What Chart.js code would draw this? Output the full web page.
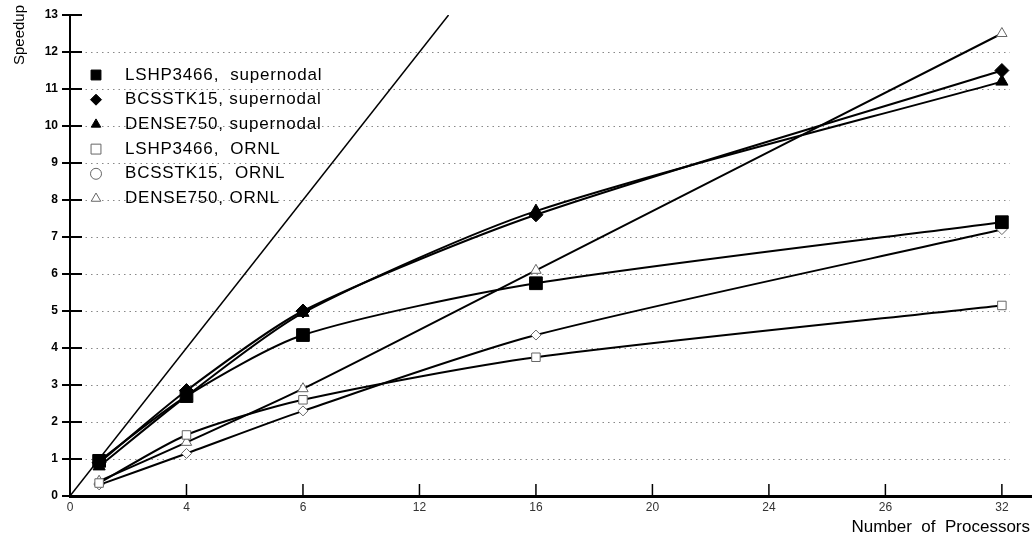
<!DOCTYPE html>
<html>
<head>
  <meta charset="UTF-8">
  <title>Speedup</title>
  <script src="https://cdn.jsdelivr.net/npm/chart.js"></script>
  <style>
    html, body { margin: 0; padding: 0; background: #fff; }
    #wrap { width: 1033px; height: 540px; position: relative; }
  </style>
</head>
<body>
  <div id="wrap"><canvas id="speedChart"></canvas></div>

  <script>
    // processors used in the runs
    const procs = [1, 4, 8, 16, 32];

    // x ticks as printed on the original figure (8 and 28 print as "6" and "26")
    const xTickValues = [0, 4, 8, 12, 16, 20, 24, 28, 32];
    const xTickLabels = ['0', '4', '6', '12', '16', '20', '24', '26', '32'];

    // speedup values
    const lshpSuper   = [0.95, 2.7, 4.35, 5.75, 7.4];
    const bcsstkSuper = [0.9, 2.85, 5.0, 7.6, 11.5];
    const denseSuper  = [0.8, 2.7, 4.95, 7.7, 11.2];
    const lshpOrnl    = [0.35, 1.65, 2.6, 3.75, 5.15];
    const bcsstkOrnl  = [0.3, 1.15, 2.3, 4.35, 7.2];
    const denseOrnl   = [0.4, 1.45, 2.9, 6.1, 12.5];

    // ideal speedup line (y = x), drawn until it leaves the plot
    const idealX = [0, 13];
    const idealY = [0, 13];

    const toPts = (xs, ys) => xs.map((x, i) => ({ x: x, y: ys[i] }));

    function series(label, vals, style, filled, radius) {
      return {
        label: label,
        data: toPts(procs, vals),
        borderColor: '#000',
        borderWidth: 2,
        tension: 0.25,
        pointStyle: style,
        pointRadius: radius,
        pointBackgroundColor: filled ? '#000' : '#fff',
        pointBorderColor: filled ? '#000' : '#666',
        pointBorderWidth: 1,
        fill: false,
        clip: false
      };
    }

    const datasets = [
      series('LSHP3466,  supernodal', lshpSuper, 'rect', true, 9),
      series('BCSSTK15, supernodal', bcsstkSuper, 'rectRot', true, 7),
      series('DENSE750, supernodal', denseSuper, 'triangle', true, 7),
      series('LSHP3466,  ORNL', lshpOrnl, 'rect', false, 6),
      series('BCSSTK15,  ORNL', bcsstkOrnl, 'rectRot', false, 5),
      series('DENSE750, ORNL', denseOrnl, 'triangle', false, 6),
      {
        label: 'ideal',
        data: toPts(idealX, idealY),
        borderColor: '#000',
        borderWidth: 1.5,
        pointRadius: 0,
        tension: 0
      }
    ];

    // legend marker shapes (the ORNL circle is printed as a letter "o")
    const legendStyles = ['rect', 'rectRot', 'triangle', 'rect', 'circle', 'triangle'];

    // dotted grid, tick marks, axis titles and in-plot legend
    const decorations = {
      id: 'decorations',
      beforeDatasetsDraw(chart) {
        const { ctx, chartArea, scales } = chart;
        const y = scales.y;
        ctx.save();
        ctx.strokeStyle = '#888';
        ctx.lineWidth = 1;
        ctx.setLineDash([1.5, 4]);
        for (let v = 1; v <= 12; v++) {
          const py = Math.round(y.getPixelForValue(v)) + 0.5;
          ctx.beginPath();
          ctx.moveTo(chartArea.left + 10, py);
          ctx.lineTo(1010, py);
          ctx.stroke();
        }
        ctx.restore();
      },
      afterDraw(chart) {
        const { ctx, chartArea, scales } = chart;
        const x = scales.x, y = scales.y;
        ctx.save();
        ctx.strokeStyle = '#000';
        // y tick marks crossing the axis
        ctx.lineWidth = 2;
        for (let v = 0; v <= 13; v++) {
          const py = y.getPixelForValue(v);
          ctx.beginPath();
          ctx.moveTo(chartArea.left - 8, py);
          ctx.lineTo(chartArea.left + 12, py);
          ctx.stroke();
        }
        // x tick marks pointing up
        ctx.lineWidth = 1.5;
        xTickValues.forEach(v => {
          const px = x.getPixelForValue(v);
          ctx.beginPath();
          ctx.moveTo(px, chartArea.bottom - 12);
          ctx.lineTo(px, chartArea.bottom);
          ctx.stroke();
        });

        // axis titles
        ctx.fillStyle = '#000';
        ctx.font = '17px "Liberation Sans", Arial, sans-serif';
        ctx.textAlign = 'right';
        ctx.textBaseline = 'alphabetic';
        ctx.fillText('Number  of  Processors', 1030, 532);
        ctx.font = '15px "Liberation Sans", Arial, sans-serif';
        ctx.translate(24, 35);
        ctx.rotate(-Math.PI / 2);
        ctx.textAlign = 'center';
        ctx.fillText('Speedup', 0, 0);
        ctx.setTransform(1, 0, 0, 1, 0, 0);

        // legend inside the plot
        ctx.font = '17px "Liberation Sans", Arial, sans-serif';
        ctx.letterSpacing = '0.8px';
        ctx.textAlign = 'left';
        ctx.textBaseline = 'middle';
        chart.data.datasets.slice(0, 6).forEach((ds, i) => {
          const ly = 75 + i * 24.7;
          ctx.fillStyle = ds.pointBackgroundColor;
          ctx.strokeStyle = ds.pointBorderColor;
          ctx.lineWidth = 1;
          Chart.helpers.drawPoint(ctx, {
            pointStyle: legendStyles[i],
            radius: legendStyles[i] === 'rect' ? 7 : 5.5,
            borderWidth: 1
          }, 96, ly);
          ctx.fillStyle = '#000';
          ctx.fillText(ds.label, 125, ly);
        });
        ctx.restore();
      }
    };

    new Chart(document.getElementById('speedChart'), {
      type: 'line',
      data: { datasets: datasets },
      plugins: [decorations],
      options: {
        responsive: true,
        maintainAspectRatio: false,
        animation: false,
        layout: { autoPadding: false, padding: { top: 15, right: 2, left: 0, bottom: 0 } },
        plugins: {
          legend: { display: false },
          tooltip: { enabled: false }
        },
        scales: {
          x: {
            type: 'linear',
            min: 0,
            max: 33,
            afterBuildTicks(scale) {
              scale.ticks = xTickValues.map(v => ({ value: v }));
            },
            afterFit(scale) {
              scale.height = 44;
              scale.paddingLeft = 0;
              scale.paddingRight = 0;
            },
            ticks: {
              padding: 4,
              color: '#333',
              font: { family: '"Liberation Sans", Arial, sans-serif', size: 12 },
              callback: v => xTickLabels[xTickValues.indexOf(v)]
            },
            grid: { drawOnChartArea: false, drawTicks: false },
            border: { color: '#000', width: 3 }
          },
          y: {
            min: 0,
            max: 13,
            afterFit(scale) {
              scale.width = 70;
              scale.paddingTop = 0;
              scale.paddingBottom = 0;
            },
            ticks: {
              stepSize: 1,
              padding: 12,
              color: '#000',
              font: { family: '"Liberation Sans", Arial, sans-serif', size: 12, weight: 'bold' }
            },
            grid: { drawOnChartArea: false, drawTicks: false },
            border: { color: '#000', width: 2 }
          }
        }
      }
    });
  </script>
</body>
</html>
